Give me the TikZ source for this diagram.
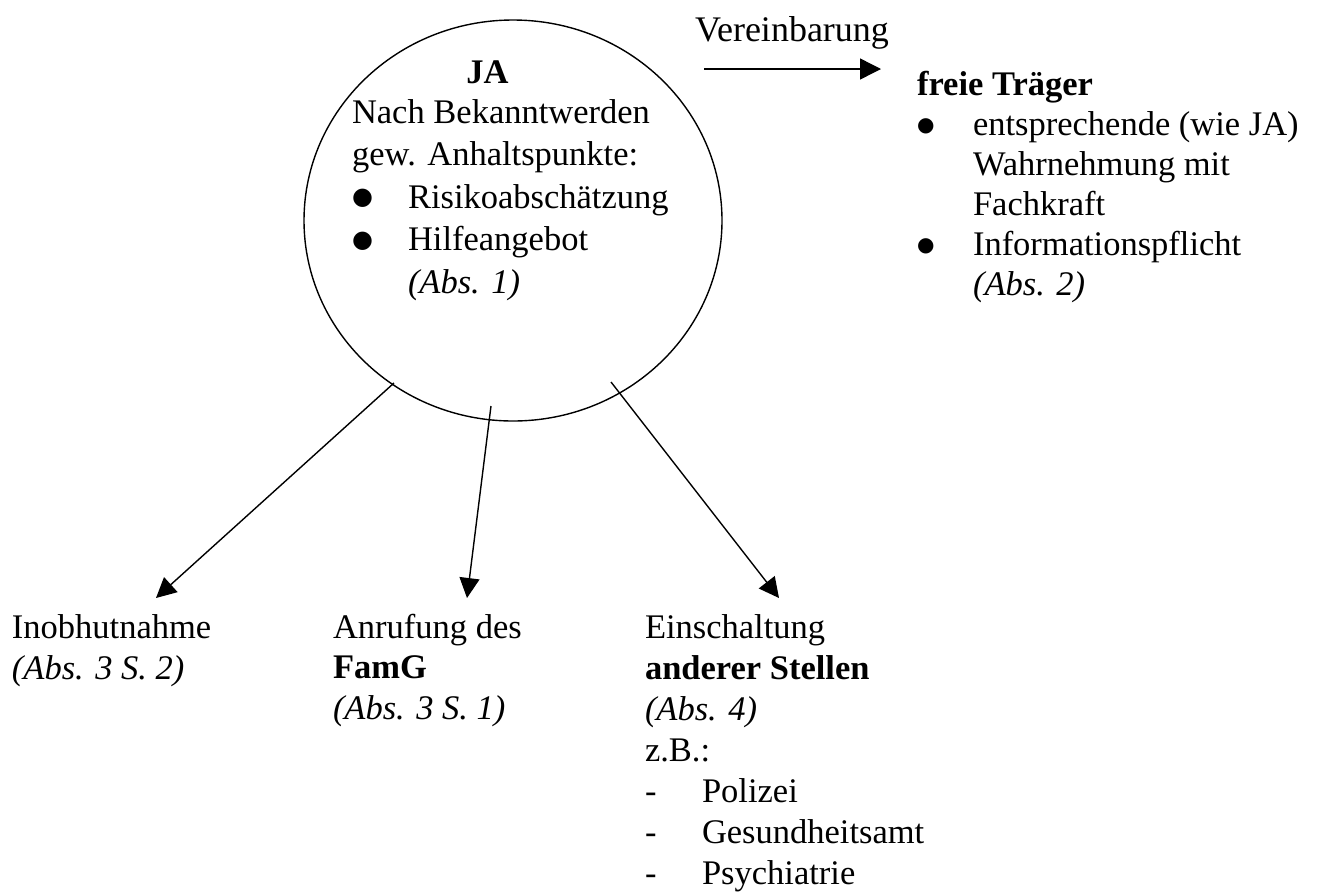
\documentclass[tikz,border=0pt]{standalone}
\usepackage{fontspec}
\setmainfont{Liberation Serif}
\newfontfamily\symfont{DejaVu Sans}
\usetikzlibrary{shapes.geometric,arrows.meta}
\newcommand\bulA{\raisebox{3.5pt}{\symfont\fontsize{24pt}{24pt}\selectfont ●}}
\newcommand\bulB{\raisebox{4pt}{\symfont\fontsize{20pt}{20pt}\selectfont ●}}
\newcommand\bulitemA[1]{\hbox{\makebox[56pt][l]{\bulA}#1}}
\newcommand\bulitemB[1]{\hbox{\makebox[56pt][l]{\bulB}#1}}
\newcommand\dashitem[1]{\hbox{\makebox[57pt][l]{-}#1}}
\newcommand\indentitem[1]{\hbox{\hspace*{56pt}#1}}
\tikzset{
  txt/.style={anchor=base west, inner sep=0pt, outer sep=0pt, font=\fontsize{34.5pt}{40pt}\selectfont},
  conn/.style={line width=1.4pt, -{Triangle[length=20pt,width=20pt]}},
  bigcircle/.style={draw, ellipse, line width=1.4pt, inner sep=0pt, minimum width=418pt, minimum height=401pt}
}
\begin{document}
\begin{tikzpicture}[x=1pt,y=-1pt]
\useasboundingbox (0,0) rectangle (1317,895);
% circle
\node[bigcircle] (ja) at (513,220.5) {};
\node[txt, anchor=base] (jatitle) at (487.5,83) {\textbf{JA}};
\node[txt] (jatext) at (352,123) {\vtop{\baselineskip=42.5pt
  \hbox{Nach Bekanntwerden}
  \hbox{gew. Anhaltspunkte:}
  \bulitemA{Risikoabschätzung}
  \bulitemA{Hilfeangebot}
  \indentitem{\textit{(Abs. 1)}}}};
% Vereinbarung
\node[txt, font=\fontsize{36pt}{40pt}\selectfont] (ver) at (695,41) {Vereinbarung};
\coordinate (va) at (704,69);
\coordinate (vb) at (881,69);
\draw[conn, -{Triangle[length=21pt,width=21pt]}] (va) -- (vb);
% freie Traeger
\node[txt] (ft) at (917,95) {\vtop{\baselineskip=40pt
  \hbox{\textbf{freie Träger}}
  \bulitemB{entsprechende (wie JA)}
  \indentitem{Wahrnehmung mit}
  \indentitem{Fachkraft}
  \bulitemB{Informationspflicht}
  \indentitem{\textit{(Abs. 2)}}}};
% bottom blocks
\node[txt] (inob) at (12,638) {\vtop{\baselineskip=41pt
  \hbox{Inobhutnahme}
  \hbox{\textit{(Abs. 3 S. 2)}}}};
\node[txt] (famg) at (333,638) {\vtop{\baselineskip=40.5pt
  \hbox{Anrufung des}
  \hbox{\textbf{FamG}}
  \hbox{\textit{(Abs. 3 S. 1)}}}};
\node[txt] (ander) at (645,638) {\vtop{\baselineskip=41pt
  \hbox{Einschaltung}
  \hbox{\textbf{anderer Stellen}}
  \hbox{\textit{(Abs. 4)}}
  \hbox{z.B.:}
  \dashitem{Polizei}
  \dashitem{Gesundheitsamt}
  \dashitem{Psychiatrie}}};
% arrows
\coordinate (s1) at (394,383);
\coordinate (t1) at (156,598);
\coordinate (s2) at (491,406);
\coordinate (t2) at (467,598);
\coordinate (s3) at (611,382);
\coordinate (t3) at (779,598);
\draw[conn] (s1) -- (t1);
\draw[conn] (s2) -- (t2);
\draw[conn] (s3) -- (t3);
\end{tikzpicture}
\end{document}
